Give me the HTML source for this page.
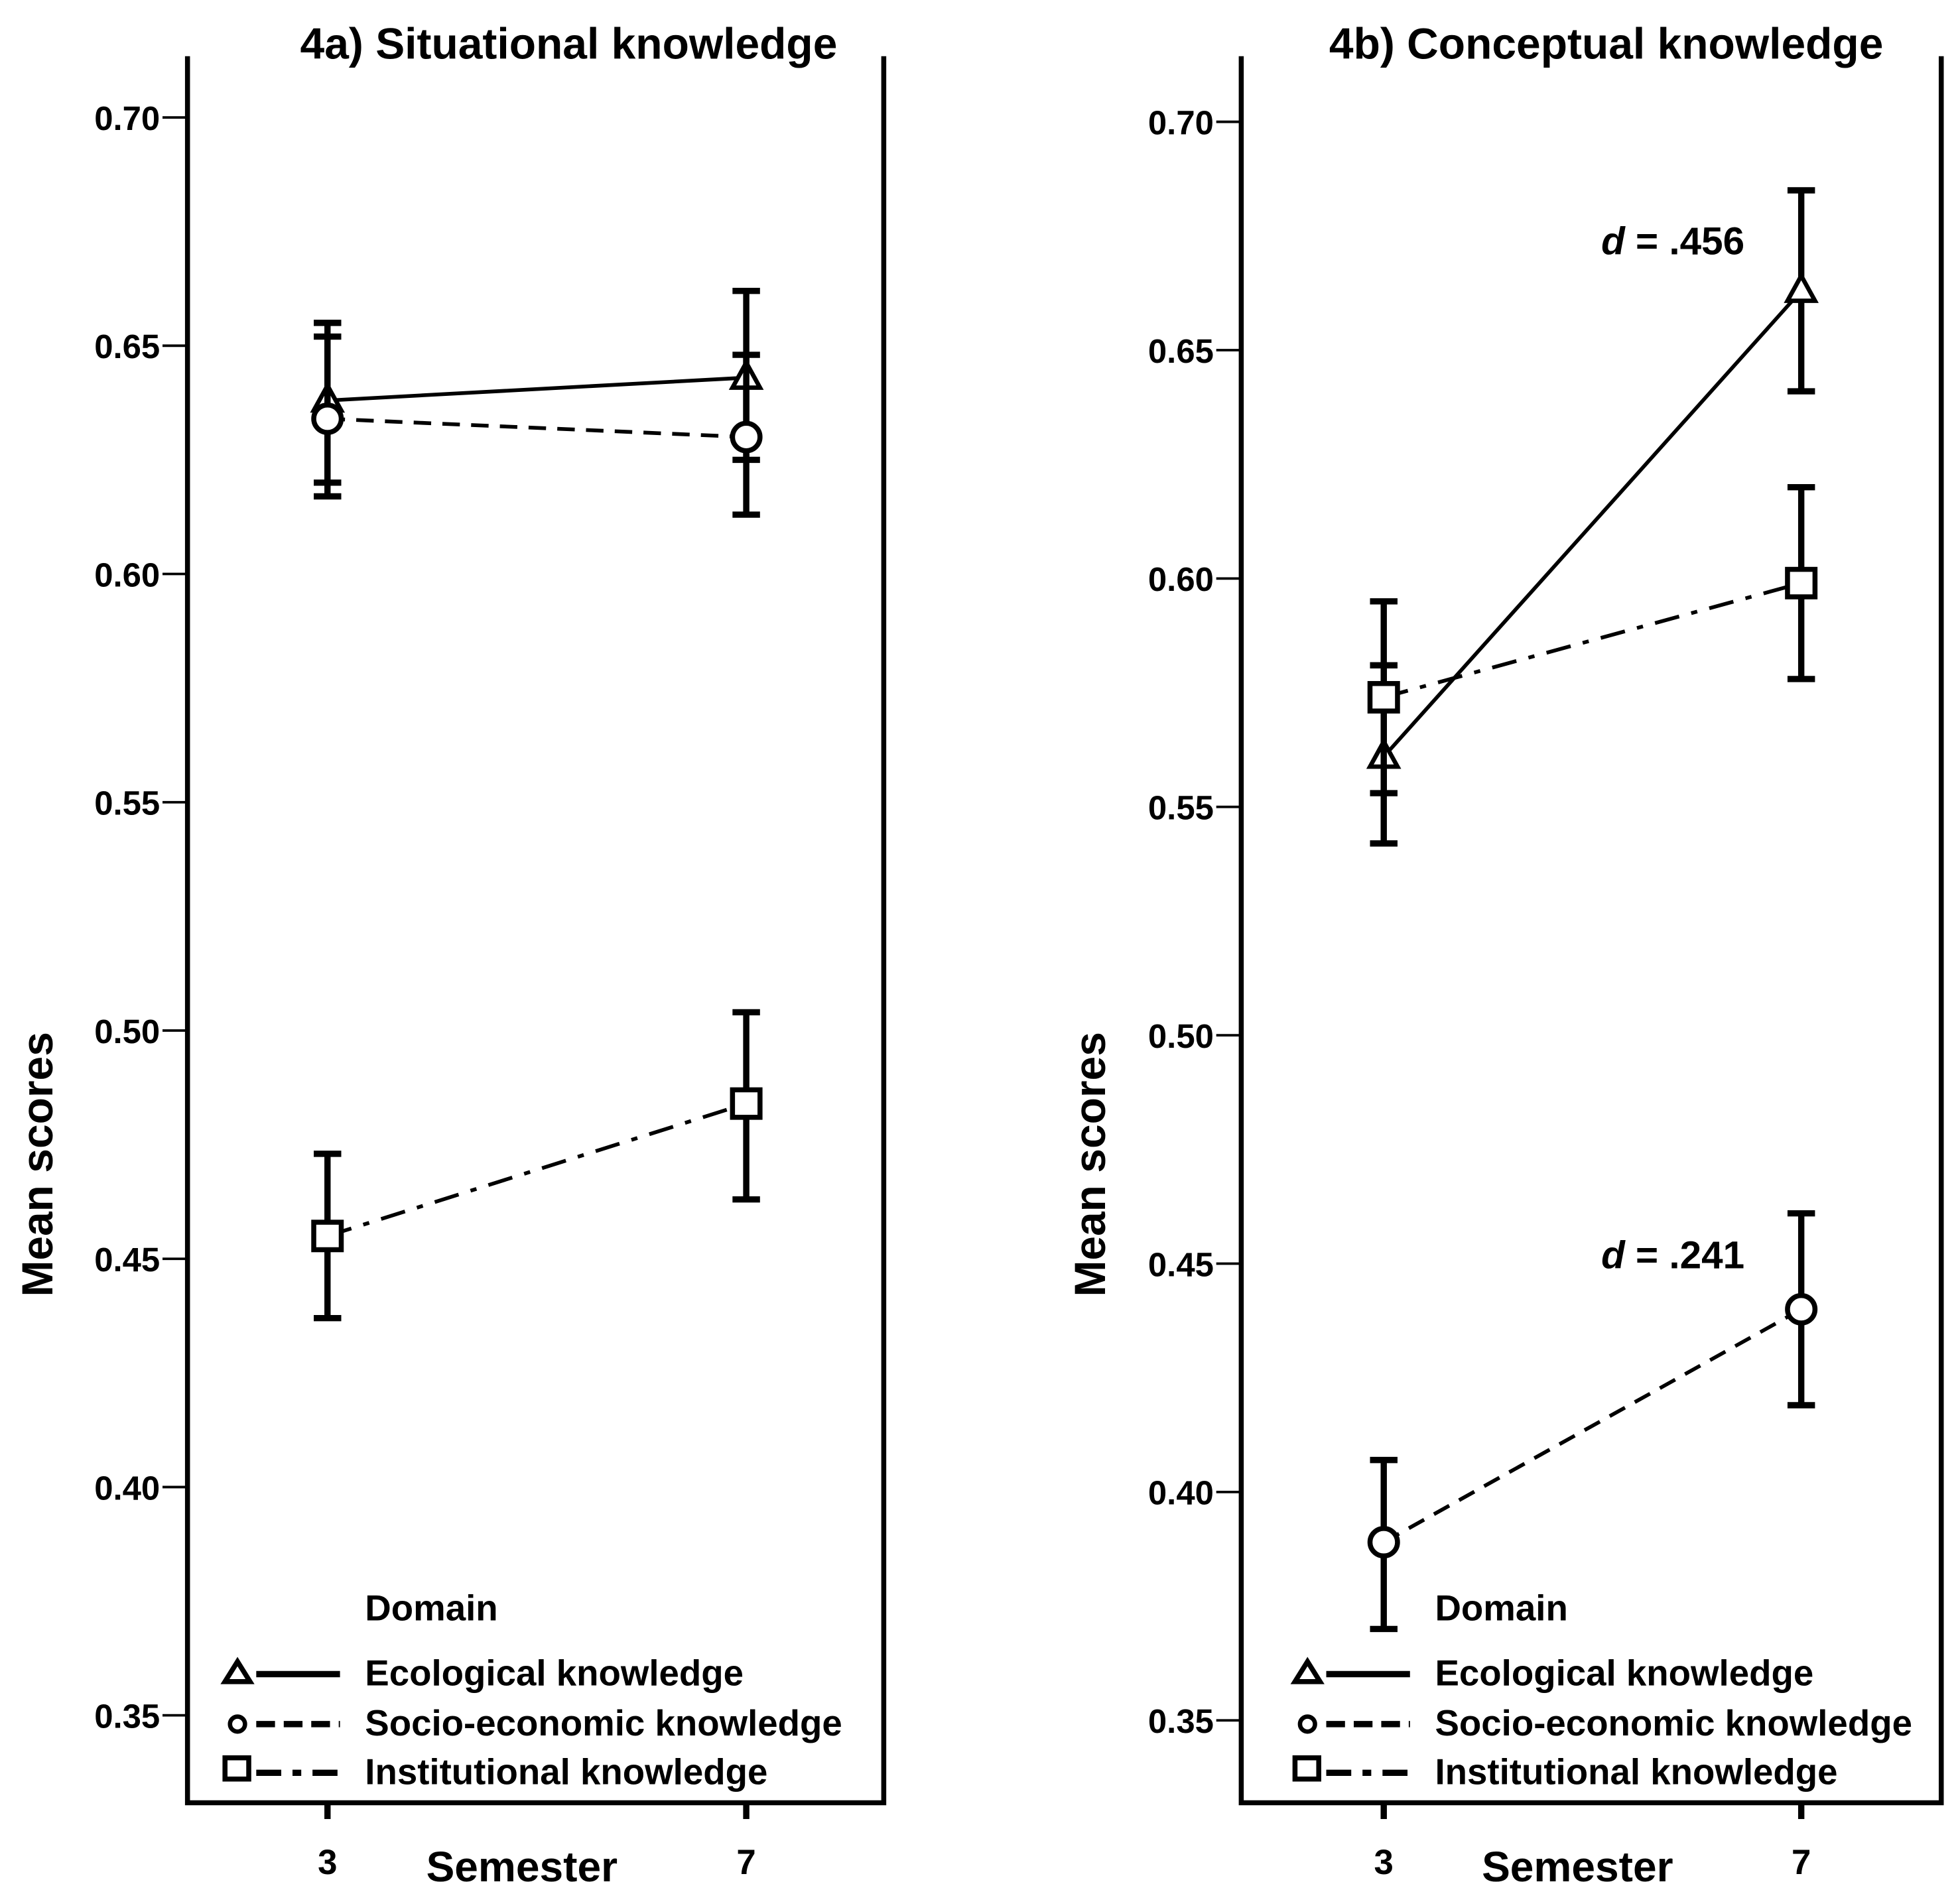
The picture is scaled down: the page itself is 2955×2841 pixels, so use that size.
<!DOCTYPE html>
<html><head><meta charset="utf-8"><style>html,body{margin:0;padding:0;background:#fff}svg{display:block}text{font-family:"Liberation Sans",Arial,sans-serif;fill:#000}</style></head>
<body>
<svg id="chart" width="2955" height="2841" viewBox="0 0 1568 1508" preserveAspectRatio="none" xmlns="http://www.w3.org/2000/svg"></svg>
<script>
const ticks=[0.35,0.40,0.45,0.50,0.55,0.60,0.65,0.70];
const tickLabels=["0.35","0.40","0.45","0.50","0.55","0.60","0.65","0.70"];
const categories=["3","7"];
const seriesNames=["Ecological knowledge","Socio-economic knowledge","Institutional knowledge"];
const aEco=[0.638,0.643],aEcoLo=[0.620,0.625],aEcoHi=[0.655,0.662];
const aSoc=[0.634,0.630],aSocLo=[0.617,0.613],aSocHi=[0.652,0.648];
const aIns=[0.455,0.484],aInsLo=[0.437,0.463],aInsHi=[0.473,0.504];
const bEco=[0.561,0.663],bEcoLo=[0.542,0.641],bEcoHi=[0.581,0.685];
const bSoc=[0.389,0.440],bSocLo=[0.370,0.419],bSocHi=[0.407,0.461];
const bIns=[0.574,0.599],bInsLo=[0.553,0.578],bInsHi=[0.595,0.620];
const NS="http://www.w3.org/2000/svg";
const svg=document.getElementById('chart');
function el(t,a,p){const e=document.createElementNS(NS,t);for(const k in a)e.setAttribute(k,a[k]);(p||svg).appendChild(e);return e;}
function panel(o){
  const g=el('g',{});
  
  
  const y=v=>o.y70+(0.70-v)/0.05*((o.y35-o.y70)/7);
  const x=i=>o.xc[i];
  const fr=el('path',{d:`M${o.L},45 V1443 H${o.R} V45`,fill:'none',stroke:'#000','stroke-width':4},g);
  
  ticks.forEach((t,i)=>{
    el('line',{x1:o.L-20,x2:o.L,y1:y(t),y2:y(t),stroke:'#000','stroke-width':2},g);
    const tx=el('text',{x:o.L-22,y:y(t)+10,'text-anchor':'end','font-size':27,'font-weight':'bold'},g);
    tx.textContent=tickLabels[i];
    
  });
  categories.forEach((c,i)=>{
    el('line',{x1:x(i),x2:x(i),y1:1443,y2:1456,stroke:'#000','stroke-width':5},g);
    const tx=el('text',{x:x(i),y:1500,'text-anchor':'middle','font-size':28,'font-weight':'bold'},g);
    tx.textContent=c;
  });
  const tt=el('text',{x:o.tx,y:47,'text-anchor':'middle','font-size':35,'font-weight':'bold'},g);
  tt.textContent=o.title;
  const yl=el('text',{x:0,y:0,'text-anchor':'middle','font-size':35,'font-weight':'bold',transform:`translate(${o.yl},932) rotate(-90)`},g);
  yl.textContent='Mean scores';
  const xl=el('text',{x:(o.xc[0]+o.xc[1])/2-12,y:1506,'text-anchor':'middle','font-size':34,'font-weight':'bold'},g);
  xl.textContent='Semester';
  const dash=['',"14,9","20,10,5,10"];
  o.series.forEach((s,k)=>{
    const ln=el('line',{x1:x(0),y1:y(s.v[0]),x2:x(1),y2:y(s.v[1]),stroke:'#000','stroke-width':3,'stroke-dasharray':dash[k]},g);
    
    [0,1].forEach(i=>{
      const eb=el('path',{d:`M${x(i)-11},${y(s.hi[i])} H${x(i)+11} M${x(i)},${y(s.hi[i])} V${y(s.lo[i])} M${x(i)-11},${y(s.lo[i])} H${x(i)+11}`,fill:'none',stroke:'#000','stroke-width':5},g);
      
      const cx=x(i),cy=y(s.v[i]);let m;
      if(k==0)m=el('path',{d:`M${cx},${cy-12} L${cx+11},${cy+8} L${cx-11},${cy+8}Z`,fill:'#fff',stroke:'#000','stroke-width':3.5},g);
      else if(k==1)m=el('circle',{cx:cx,cy:cy,r:11,fill:'#fff',stroke:'#000','stroke-width':4},g);
      else m=el('rect',{x:cx-11,y:cy-11,width:22,height:22,fill:'#fff',stroke:'#000','stroke-width':4},g);
      
    });
  });
  (o.ann||[]).forEach(a=>{
    const t=el('text',{x:a.x,y:y(a.v),'font-size':31,'font-weight':'bold'},g);
    t.innerHTML='<tspan font-style="italic">d</tspan> = '+a.t;
    
  });
  const off=o.legOff;
  const lx=o.L+off+142;
  const dt=el('text',{x:lx,y:1297,'font-size':29,'font-weight':'bold'},g);
  dt.textContent='Domain';
  const ly=[1338,1378,1417];
  seriesNames.forEach((n,k)=>{
    const le=el('g',{},g);
    
    const mx=o.L+off+40,yy=ly[k];
    if(k==0)el('path',{d:`M${mx},${yy-8} L${mx+10},${yy+8} L${mx-10},${yy+8}Z`,fill:'#fff',stroke:'#000','stroke-width':4},le);
    else if(k==1)el('circle',{cx:mx,cy:yy+2,r:6,fill:'#fff',stroke:'#000','stroke-width':3.5},le);
    else el('rect',{x:mx-10,y:yy-10,width:19,height:17,fill:'#fff',stroke:'#000','stroke-width':4},le);
    el('line',{x1:o.L+off+55,x2:o.L+off+122,y1:yy+2,y2:yy+2,stroke:'#000','stroke-width':5,'stroke-dasharray':['','15,7','20,9,7,9'][k]},le);
    const t=el('text',{x:lx,y:yy+11,'font-size':29,'font-weight':'bold'},le);t.textContent=n;
  });
}
panel({name:'panel-4a',title:'4a) Situational knowledge',L:150,R:707,y70:94,y35:1373,xc:[262,597],tx:455,yl:42,legOff:0,
  series:[{v:aEco,lo:aEcoLo,hi:aEcoHi},{v:aSoc,lo:aSocLo,hi:aSocHi},{v:aIns,lo:aInsLo,hi:aInsHi}]});
panel({name:'panel-4b',title:'4b) Conceptual knowledge',L:993,R:1553,y70:97.5,y35:1377,xc:[1107,1441],tx:1285,yl:884,legOff:13,
  series:[{v:bEco,lo:bEcoLo,hi:bEcoHi},{v:bSoc,lo:bSocLo,hi:bSocHi},{v:bIns,lo:bInsLo,hi:bInsHi}],
  ann:[{x:1281,v:0.671,t:'.456'},{x:1281,v:0.449,t:'.241'}]});
</script>
</body></html>
